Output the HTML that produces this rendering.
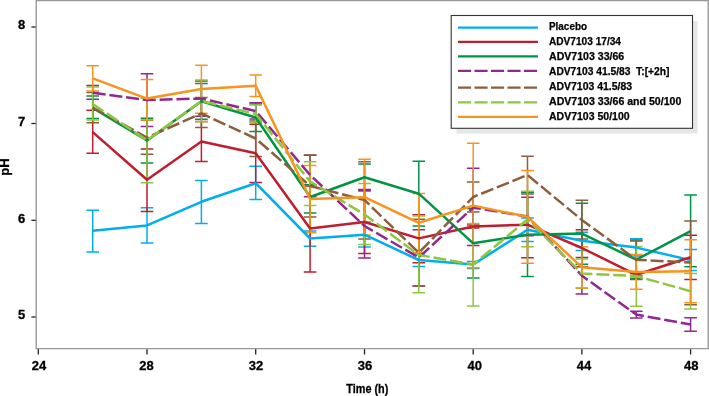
<!DOCTYPE html>
<html><head><meta charset="utf-8"><style>
html,body{margin:0;padding:0;background:#fff;}
svg{display:block;will-change:transform;}
.t{font-family:"Liberation Sans",sans-serif;font-weight:bold;font-size:13px;fill:#000;stroke:#000;stroke-width:0.3px;}
.l{font-family:"Liberation Sans",sans-serif;font-weight:bold;font-size:10px;fill:#000;stroke:#000;stroke-width:0.25px;}
</style></head><body>
<svg width="709" height="396" viewBox="0 0 709 396">
<rect x="0" y="0" width="709" height="396" fill="#fff"/>
<path d="M31.4 27.0H36.4" stroke="#222" stroke-width="1.3"/>
<text x="25.3" y="29.4" text-anchor="end" class="t">8</text>
<path d="M31.4 123.5H36.4" stroke="#222" stroke-width="1.3"/>
<text x="25.3" y="125.9" text-anchor="end" class="t">7</text>
<path d="M31.4 220.3H36.4" stroke="#222" stroke-width="1.3"/>
<text x="25.3" y="222.7" text-anchor="end" class="t">6</text>
<path d="M31.4 317.0H36.4" stroke="#222" stroke-width="1.3"/>
<text x="25.3" y="319.4" text-anchor="end" class="t">5</text>
<path d="M38.3 349V354.5" stroke="#222" stroke-width="1.3"/>
<text x="39.1" y="370" text-anchor="middle" class="t">24</text>
<path d="M147.0 349V354.5" stroke="#222" stroke-width="1.3"/>
<text x="146.4" y="370" text-anchor="middle" class="t">28</text>
<path d="M255.7 349V354.5" stroke="#222" stroke-width="1.3"/>
<text x="256.0" y="370" text-anchor="middle" class="t">32</text>
<path d="M364.5 349V354.5" stroke="#222" stroke-width="1.3"/>
<text x="365.1" y="370" text-anchor="middle" class="t">36</text>
<path d="M473.2 349V354.5" stroke="#222" stroke-width="1.3"/>
<text x="474.8" y="370" text-anchor="middle" class="t">40</text>
<path d="M581.9 349V354.5" stroke="#222" stroke-width="1.3"/>
<text x="583.9" y="370" text-anchor="middle" class="t">44</text>
<path d="M690.6 349V354.5" stroke="#222" stroke-width="1.3"/>
<text x="691.2" y="370" text-anchor="middle" class="t">48</text>
<text class="t" transform="translate(9.3 167) rotate(-90)" text-anchor="middle">pH</text>
<text class="t" x="346.3" y="393" textLength="42" lengthAdjust="spacingAndGlyphs">Time (h)</text>
<path d="M92.7 210.3V252.0M86.4 210.3H99.0M86.4 252.0H99.0M147.0 207.8V243.1M140.7 207.8H153.3M140.7 243.1H153.3M201.4 180.6V223.4M195.1 180.6H207.7M195.1 223.4H207.7M255.7 166.2V199.4M249.4 166.2H262.0M249.4 199.4H262.0M310.1 231.1V246.2M303.8 231.1H316.4M303.8 246.2H316.4M364.5 222.0V247.0M358.2 222.0H370.8M358.2 247.0H370.8M418.8 254.0V266.4M412.5 254.0H425.1M412.5 266.4H425.1M473.2 261.4V268.6M466.9 261.4H479.5M466.9 268.6H479.5M527.5 218.1V241.5M521.2 218.1H533.8M521.2 241.5H533.8M581.9 232.3V250.5M575.6 232.3H588.2M575.6 250.5H588.2M636.3 238.8V255.9M630.0 238.8H642.6M630.0 255.9H642.6M690.6 249.5V270.5M684.3 249.5H696.9M684.3 270.5H696.9" stroke="#00aeef" stroke-width="1.5" fill="none"/>
<path d="M92.7 110.3V153.3M86.4 110.3H99.0M86.4 153.3H99.0M147.0 149.0V211.5M140.7 149.0H153.3M140.7 211.5H153.3M201.4 121.6V161.4M195.1 121.6H207.7M195.1 161.4H207.7M255.7 124.3V182.6M249.4 124.3H262.0M249.4 182.6H262.0M310.1 185.9V272.0M303.8 185.9H316.4M303.8 272.0H316.4M364.5 189.6V253.4M358.2 189.6H370.8M358.2 253.4H370.8M418.8 214.7V262.8M412.5 214.7H425.1M412.5 262.8H425.1M473.2 225.0V228.0M466.9 225.0H479.5M466.9 228.0H479.5M527.5 191.7V257.7M521.2 191.7H533.8M521.2 257.7H533.8M581.9 229.8V266.8M575.6 229.8H588.2M575.6 266.8H588.2M636.3 273.5V276.0M630.0 273.5H642.6M630.0 276.0H642.6M690.6 235.2V279.5M684.3 235.2H696.9M684.3 279.5H696.9" stroke="#be1e2d" stroke-width="1.5" fill="none"/>
<path d="M92.7 96.1V118.4M86.4 96.1H99.0M86.4 118.4H99.0M147.0 118.2V163.0M140.7 118.2H153.3M140.7 163.0H153.3M201.4 83.6V119.3M195.1 83.6H207.7M195.1 119.3H207.7M255.7 103.9V131.6M249.4 103.9H262.0M249.4 131.6H262.0M310.1 184.8V213.0M303.8 184.8H316.4M303.8 213.0H316.4M364.5 163.9V190.9M358.2 163.9H370.8M358.2 190.9H370.8M418.8 161.2V226.0M412.5 161.2H425.1M412.5 226.0H425.1M473.2 208.6V278.0M466.9 208.6H479.5M466.9 278.0H479.5M527.5 192.6V276.4M521.2 192.6H533.8M521.2 276.4H533.8M581.9 203.2V264.2M575.6 203.2H588.2M575.6 264.2H588.2M636.3 241.1V278.3M630.0 241.1H642.6M630.0 278.3H642.6M690.6 195.1V266.7M684.3 195.1H696.9M684.3 266.7H696.9" stroke="#009444" stroke-width="1.5" fill="none"/>
<path d="M92.7 85.6V99.2M86.4 85.6H99.0M86.4 99.2H99.0M147.0 73.8V126.4M140.7 73.8H153.3M140.7 126.4H153.3M201.4 81.0V116.2M195.1 81.0H207.7M195.1 116.2H207.7M255.7 102.7V119.1M249.4 102.7H262.0M249.4 119.1H262.0M310.1 155.2V196.8M303.8 155.2H316.4M303.8 196.8H316.4M364.5 190.3V258.0M358.2 190.3H370.8M358.2 258.0H370.8M418.8 229.8V286.1M412.5 229.8H425.1M412.5 286.1H425.1M473.2 168.3V245.5M466.9 168.3H479.5M466.9 245.5H479.5M527.5 197.3V235.8M521.2 197.3H533.8M521.2 235.8H533.8M581.9 257.4V294.0M575.6 257.4H588.2M575.6 294.0H588.2M636.3 311.2V318.0M630.0 311.2H642.6M630.0 318.0H642.6M690.6 317.7V331.3M684.3 317.7H696.9M684.3 331.3H696.9" stroke="#92278f" stroke-width="1.5" fill="none"/>
<path d="M92.7 92.4V122.8M86.4 92.4H99.0M86.4 122.8H99.0M147.0 120.2V154.2M140.7 120.2H153.3M140.7 154.2H153.3M201.4 97.6V127.6M195.1 97.6H207.7M195.1 127.6H207.7M255.7 120.9V156.5M249.4 120.9H262.0M249.4 156.5H262.0M310.1 155.0V216.9M303.8 155.0H316.4M303.8 216.9H316.4M364.5 161.8V239.0M358.2 161.8H370.8M358.2 239.0H370.8M418.8 219.3V286.1M412.5 219.3H425.1M412.5 286.1H425.1M473.2 181.9V211.9M466.9 181.9H479.5M466.9 211.9H479.5M527.5 156.3V194.0M521.2 156.3H533.8M521.2 194.0H533.8M581.9 200.3V239.0M575.6 200.3H588.2M575.6 239.0H588.2M636.3 240.1V279.5M630.0 240.1H642.6M630.0 279.5H642.6M690.6 220.9V304.8M684.3 220.9H696.9M684.3 304.8H696.9" stroke="#8b5e3c" stroke-width="1.5" fill="none"/>
<path d="M92.7 86.9V119.9M86.4 86.9H99.0M86.4 119.9H99.0M147.0 98.5V182.7M140.7 98.5H153.3M140.7 182.7H153.3M201.4 80.1V121.8M195.1 80.1H207.7M195.1 121.8H207.7M255.7 105.0V122.3M249.4 105.0H262.0M249.4 122.3H262.0M310.1 161.7V205.6M303.8 161.7H316.4M303.8 205.6H316.4M364.5 183.5V244.6M358.2 183.5H370.8M358.2 244.6H370.8M418.8 215.9V292.8M412.5 215.9H425.1M412.5 292.8H425.1M473.2 223.5V306.0M466.9 223.5H479.5M466.9 306.0H479.5M527.5 191.3V246.8M521.2 191.3H533.8M521.2 246.8H533.8M581.9 259.0V288.2M575.6 259.0H588.2M575.6 288.2H588.2M636.3 246.4V306.2M630.0 246.4H642.6M630.0 306.2H642.6M690.6 273.5V308.9M684.3 273.5H696.9M684.3 308.9H696.9" stroke="#8dc63f" stroke-width="1.5" fill="none"/>
<path d="M92.7 65.7V91.0M86.4 65.7H99.0M86.4 91.0H99.0M147.0 79.4V119.9M140.7 79.4H153.3M140.7 119.9H153.3M201.4 65.2V113.3M195.1 65.2H207.7M195.1 113.3H207.7M255.7 74.9V96.4M249.4 74.9H262.0M249.4 96.4H262.0M310.1 165.5V232.7M303.8 165.5H316.4M303.8 232.7H316.4M364.5 159.2V234.9M358.2 159.2H370.8M358.2 234.9H370.8M418.8 193.5V252.5M412.5 193.5H425.1M412.5 252.5H425.1M473.2 143.2V267.7M466.9 143.2H479.5M466.9 267.7H479.5M527.5 170.6V263.2M521.2 170.6H533.8M521.2 263.2H533.8M581.9 246.7V288.0M575.6 246.7H588.2M575.6 288.0H588.2M636.3 254.6V289.2M630.0 254.6H642.6M630.0 289.2H642.6M690.6 239.7V302.7M684.3 239.7H696.9M684.3 302.7H696.9" stroke="#f7941d" stroke-width="1.5" fill="none"/>
<polyline points="92.7,230.8 147.0,225.4 201.4,201.8 255.7,183.2 310.1,238.5 364.5,234.7 418.8,260.0 473.2,264.5 527.5,229.7 581.9,240.8 636.3,247.6 690.6,260.1" stroke="#00aeef" stroke-width="2.5" fill="none" stroke-linejoin="round"/>
<polyline points="92.7,132.1 147.0,179.7 201.4,141.5 255.7,153.2 310.1,228.6 364.5,222.0 418.8,238.4 473.2,226.5 527.5,224.7 581.9,248.0 636.3,274.8 690.6,257.2" stroke="#be1e2d" stroke-width="2.5" fill="none" stroke-linejoin="round"/>
<polyline points="92.7,108.0 147.0,140.4 201.4,101.3 255.7,117.5 310.1,197.0 364.5,177.3 418.8,193.7 473.2,243.3 527.5,234.8 581.9,233.6 636.3,259.7 690.6,231.2" stroke="#009444" stroke-width="2.5" fill="none" stroke-linejoin="round"/>
<polyline points="92.7,92.7 147.0,100.0 201.4,98.5 255.7,111.0 310.1,175.0 364.5,226.0 418.8,257.5 473.2,207.5 527.5,216.5 581.9,275.7 636.3,314.6 690.6,324.5" stroke="#92278f" stroke-width="2.5" fill="none" stroke-linejoin="round" stroke-dasharray="13 3.85"/>
<polyline points="92.7,107.6 147.0,137.5 201.4,113.5 255.7,138.5 310.1,186.0 364.5,200.0 418.8,252.7 473.2,197.0 527.5,175.0 581.9,220.0 636.3,259.8 690.6,262.5" stroke="#8b5e3c" stroke-width="2.5" fill="none" stroke-linejoin="round" stroke-dasharray="13 3.85"/>
<polyline points="92.7,104.0 147.0,140.4 201.4,101.0 255.7,114.0 310.1,181.5 364.5,214.5 418.8,255.0 473.2,264.5 527.5,219.4 581.9,273.6 636.3,276.0 690.6,291.2" stroke="#8dc63f" stroke-width="2.5" fill="none" stroke-linejoin="round" stroke-dasharray="13 3.85"/>
<polyline points="92.7,78.4 147.0,98.6 201.4,89.0 255.7,85.7 310.1,198.9 364.5,197.2 418.8,222.8 473.2,205.6 527.5,216.8 581.9,267.3 636.3,271.9 690.6,271.2" stroke="#f7941d" stroke-width="2.5" fill="none" stroke-linejoin="round"/>
<rect x="456.5" y="21" width="241" height="112.5" fill="#e6e6e6"/>
<rect x="451.2" y="15.5" width="241.3" height="112.8" fill="#fff" stroke="#333" stroke-width="1.1"/>
<path d="M458 27.6H538" stroke="#00aeef" stroke-width="2.2"/>
<text x="549.0" y="30.4" class="l" textLength="38.0" lengthAdjust="spacingAndGlyphs">Placebo</text>
<path d="M458 41.9H538" stroke="#be1e2d" stroke-width="2.2"/>
<text x="549.0" y="45.4" class="l" textLength="72.0" lengthAdjust="spacingAndGlyphs">ADV7103 17/34</text>
<path d="M458 56.4H538" stroke="#009444" stroke-width="2.2"/>
<text x="549.0" y="60.4" class="l" textLength="75.2" lengthAdjust="spacingAndGlyphs">ADV7103 33/66</text>
<path d="M458 70.9H538" stroke="#92278f" stroke-width="2.2" stroke-dasharray="13.1 3.4"/>
<text x="549.0" y="75.3" class="l" textLength="120.4" lengthAdjust="spacingAndGlyphs">ADV7103 41.5/83&#160;&#160;T:[+2h]</text>
<path d="M458 87.6H538" stroke="#8b5e3c" stroke-width="2.2" stroke-dasharray="13.1 3.4"/>
<text x="549.0" y="90.3" class="l" textLength="83.0" lengthAdjust="spacingAndGlyphs">ADV7103 41.5/83</text>
<path d="M458 102.3H538" stroke="#8dc63f" stroke-width="2.2" stroke-dasharray="13.1 3.4"/>
<text x="549.0" y="105.3" class="l" textLength="132.3" lengthAdjust="spacingAndGlyphs">ADV7103 33/66 and 50/100</text>
<path d="M458 116.8H538" stroke="#f7941d" stroke-width="2.2"/>
<text x="549.0" y="120.3" class="l" textLength="80.6" lengthAdjust="spacingAndGlyphs">ADV7103 50/100</text>
<path d="M36.2 349.2V0.5H708.2V348.6H36.2" fill="none" stroke="#999" stroke-width="1.4"/>
</svg>
</body></html>
